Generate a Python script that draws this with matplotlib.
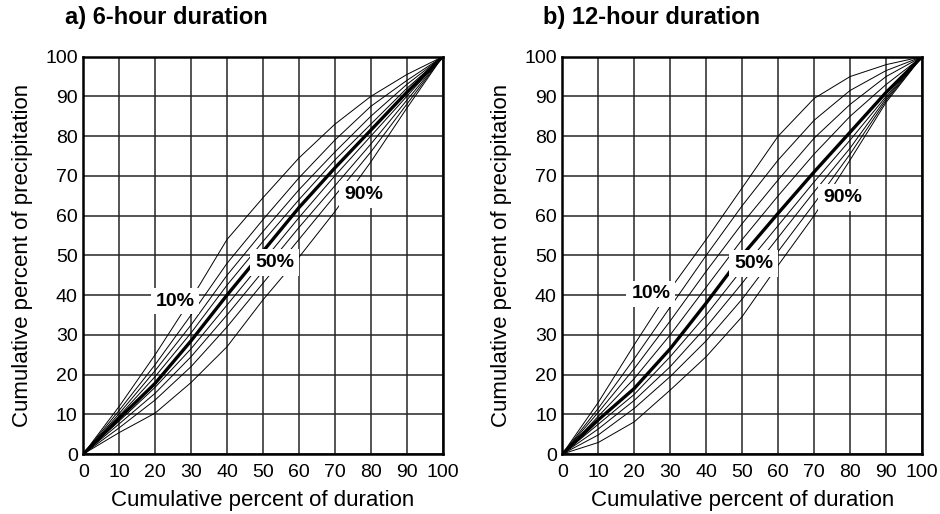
import numpy as np
import matplotlib
matplotlib.use('Agg')
import matplotlib.pyplot as plt

plt.rcParams['font.family'] = ['Liberation Sans', 'DejaVu Sans']

# cumulative percent of duration
duration = [0, 10, 20, 30, 40, 50, 60, 70, 80, 90, 100]
percentiles = ['10%', '20%', '30%', '40%', '50%', '60%', '70%', '80%', '90%']

# a) 6-hour duration, cumulative percent of precipitation per percentile
six_hour = [
    [0, 12.0, 25.0, 39.0, 54.0, 64.5, 74.5, 83.0, 90.0, 95.5, 100],
    [0, 11.0, 22.5, 35.0, 48.0, 59.0, 69.5, 79.0, 87.5, 94.0, 100],
    [0, 10.2, 21.0, 32.5, 45.0, 56.0, 66.5, 76.0, 85.0, 93.0, 100],
    [0, 9.6, 19.5, 30.5, 42.5, 53.5, 64.0, 74.0, 83.0, 92.0, 100],
    [0, 9.0, 17.8, 28.5, 40.0, 51.0, 62.0, 72.0, 81.5, 91.0, 100],
    [0, 8.3, 16.8, 26.5, 37.5, 48.5, 59.5, 70.0, 80.0, 90.0, 100],
    [0, 7.6, 15.3, 24.5, 35.0, 46.0, 57.0, 67.5, 78.0, 89.0, 100],
    [0, 6.6, 13.6, 22.0, 32.0, 43.0, 54.0, 65.0, 76.0, 88.0, 100],
    [0, 5.4, 10.3, 18.0, 27.0, 38.8, 49.5, 61.0, 73.5, 87.0, 100],
]

# b) 12-hour duration
twelve_hour = [
    [0, 13.0, 27.5, 41.5, 54.0, 67.0, 80.0, 89.5, 95.0, 98.0, 100],
    [0, 11.5, 24.0, 37.0, 50.0, 62.5, 74.0, 84.0, 91.5, 96.5, 100],
    [0, 10.5, 21.5, 33.5, 46.0, 58.0, 69.0, 79.5, 88.0, 95.0, 100],
    [0, 9.5, 19.0, 30.0, 42.0, 54.0, 65.0, 75.5, 85.0, 93.0, 100],
    [0, 8.6, 16.5, 26.5, 38.0, 50.0, 60.6, 71.0, 81.0, 91.0, 100],
    [0, 7.5, 15.0, 24.5, 35.0, 46.5, 57.5, 68.5, 79.0, 90.0, 100],
    [0, 6.3, 13.5, 22.0, 32.0, 43.0, 54.5, 66.0, 77.0, 89.5, 100],
    [0, 4.8, 11.5, 19.5, 28.5, 39.0, 51.0, 63.0, 75.5, 89.0, 100],
    [0, 2.9, 8.1, 16.1, 24.5, 34.6, 47.5, 60.0, 74.0, 88.5, 100],
]

# label positions (x, y) for 10%, 50%, 90%
labels_a = {'10%': (25.5, 38.5), '50%': (53.2, 48.2), '90%': (78.0, 65.4)}
labels_b = {'10%': (24.6, 40.3), '50%': (53.2, 47.9), '90%': (77.9, 64.6)}

titles = ['a) 6-hour duration', 'b) 12-hour duration']
ticks = list(range(0, 101, 10))

fig = plt.figure(figsize=(9.4, 5.14), dpi=100)
ax_a = fig.add_axes([0.0886, 0.1167, 0.3823, 0.773])
ax_b = fig.add_axes([0.5982, 0.1167, 0.3827, 0.773])

panels = [(ax_a, six_hour, labels_a, 0.069), (ax_b, twelve_hour, labels_b, 0.578)]
for i, (ax, curves, labels, tx) in enumerate(panels):
    for name, vals in zip(percentiles, curves):
        if name == '50%':
            ax.plot(duration, vals, color='black', lw=2.4, zorder=4)
        else:
            ax.plot(duration, vals, color='black', lw=0.7, zorder=3)

    for name, (lx, ly) in labels.items():
        ax.text(lx, ly, name, fontsize=14, fontweight='bold', ha='center', va='center',
                zorder=6, bbox=dict(facecolor='white', edgecolor='none', pad=3.5))

    ax.set_xlim(0, 100)
    ax.set_ylim(0, 100)
    ax.set_xticks(ticks)
    ax.set_yticks(ticks)
    ax.tick_params(labelsize=14, length=0)
    ax.tick_params(axis='x', pad=7)
    ax.tick_params(axis='y', pad=4)
    ax.grid(True, color='0.15', lw=1.1)
    ax.set_axisbelow(True)
    for s in ax.spines.values():
        s.set_linewidth(1.8)
    ax.set_xlabel('Cumulative percent of duration', fontsize=16, labelpad=7)
    ax.set_ylabel('Cumulative percent of precipitation', fontsize=16, labelpad=9)

    fig.text(tx, 0.966, titles[i], fontsize=17, fontweight='bold', ha='left', va='center')

fig.savefig('out.png', dpi=100)
